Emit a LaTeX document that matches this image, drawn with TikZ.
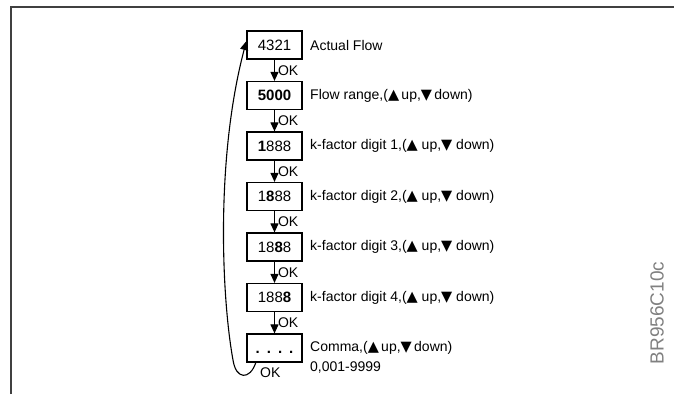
\documentclass[tikz,border=0pt]{standalone}
\usepackage{fontspec}
\setmainfont{Liberation Sans}
\newfontfamily\symfont{DejaVu Sans}
\usetikzlibrary{arrows.meta}
\newcommand{\tup}{{\symfont\fontsize{14.5}{16}\selectfont ▲}}
\newcommand{\tdown}{{\symfont\fontsize{14.5}{16}\selectfont ▼}}
\begin{document}
\begin{tikzpicture}[x=1pt,y=-1pt,
    box/.style={draw,line width=1.2pt,minimum width=55pt,minimum height=28pt,inner sep=0pt,font=\fontsize{15}{17}\selectfont},
    txt/.style={anchor=west,inner sep=0pt,font=\fontsize{14}{17}\selectfont},
    okl/.style={anchor=west,inner sep=0pt,xshift=3pt,font=\fontsize{14}{17}\selectfont},
    flow/.style={line width=1.1pt,-{Triangle[length=9pt,width=8pt]}}]
  \useasboundingbox (0,0) rectangle (674,394);
  \draw[line width=1.8pt,black!75] (11,394) -- (11,7) -- (674,7);

  \node[box] (b1) at (274.5,45) {4321};
  \node[box] (b2) at (274.5,95.5) {\textbf{5000}};
  \node[box] (b3) at (274.5,146) {\textbf{1}888};
  \node[box] (b4) at (274.5,196.5) {1\textbf{8}88};
  \node[box] (b5) at (274.5,247) {18\textbf{8}8};
  \node[box] (b6) at (274.5,297.5) {188\textbf{8}};
  \node[box] (b7) at (274.5,348) {\vphantom{8}\textbf{.}\hspace{7pt}\textbf{.}\hspace{7pt}\textbf{.}\hspace{7pt}\textbf{.}};

  \node[txt] (t1) at (310,45) {Actual Flow};
  \node[txt] (t2) at (310,95.5) {Flow range,(\tup\,up,\tdown\,down)};
  \node[txt] (t3) at (310,146) {k-factor digit 1,(\tup\ up,\tdown\ down)};
  \node[txt] (t4) at (310,196.5) {k-factor digit 2,(\tup\ up,\tdown\ down)};
  \node[txt] (t5) at (310,247) {k-factor digit 3,(\tup\ up,\tdown\ down)};
  \node[txt] (t6) at (310,297.5) {k-factor digit 4,(\tup\ up,\tdown\ down)};
  \node[txt] (t7) at (310,348) {Comma,(\tup\,up,\tdown\,down)};
  \node[txt] (t8) at (310,367) {0,001-9999};

  \draw[flow] (b1) -- (b2) node[okl,midway] (ok1) {OK};
  \draw[flow] (b2) -- (b3) node[okl,midway] (ok2) {OK};
  \draw[flow] (b3) -- (b4) node[okl,midway] (ok3) {OK};
  \draw[flow] (b4) -- (b5) node[okl,midway] (ok4) {OK};
  \draw[flow] (b5) -- (b6) node[okl,midway] (ok5) {OK};
  \draw[flow] (b6) -- (b7) node[okl,midway] (ok6) {OK};
  \node[txt] (ok7) at (260,373) {OK};
  \draw[flow] (b7.218) .. controls (250,380) and (236,380) .. (233,360)
    .. controls (222,300) and (215,160) .. (b1.172);

  \node[rotate=90,text=black!50,font=\fontsize{19}{21}\selectfont] (code) at (657,313) {BR956C10c};
\end{tikzpicture}
\end{document}
